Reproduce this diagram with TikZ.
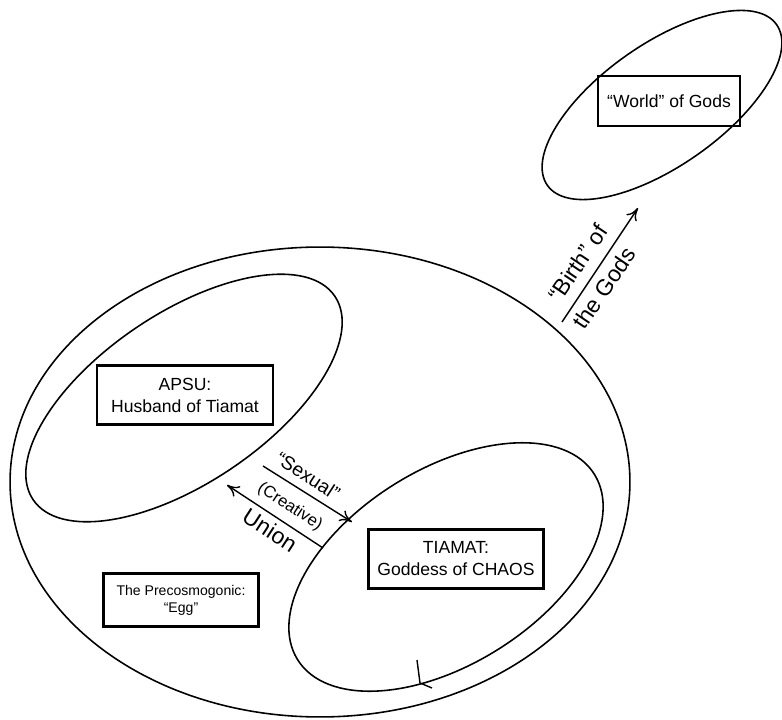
\documentclass[tikz,border=0pt]{standalone}
\usepackage{fontspec}
\setmainfont{Liberation Sans}
\usetikzlibrary{shapes.geometric,arrows.meta}
\tikzset{
 realm/.style={ellipse,draw,line width=0.9pt,inner sep=0pt,outer sep=0pt},
 namebox/.style={draw,line width=1.3pt,align=center,inner sep=0pt,font=\fontsize{10}{12.5}\selectfont},
 flow/.style={line width=0.8pt,-{To[length=7pt,width=7pt]}},
}
\begin{document}
\begin{tikzpicture}[x=0.02cm,y=-0.02cm]
 \useasboundingbox (0,0) rectangle (782,720);
 % the egg and its two halves
 \node[realm,minimum width=12.4cm,minimum height=9.4cm] (cosmos) at (320,482) {};
 \node[realm,minimum width=7.28cm,minimum height=3.4cm,rotate=34] (apsu) at (184,398) {};
 \node[realm,minimum width=7.0cm,minimum height=3.9cm,rotate=32] (tiamat) at (446,567) {};
 \node[realm,minimum width=5.6cm,minimum height=2.44cm,rotate=35] (world) at (662,105) {};
 % boxes
 \node[namebox,minimum width=3.52cm,minimum height=1.18cm] (apsubox) at (185,395) {APSU:\\Husband of Tiamat};
 \node[namebox,minimum width=3.5cm,minimum height=1.18cm] (tiamatbox) at (456,559) {TIAMAT:\\Goddess of CHAOS};
 \node[namebox,minimum width=3.1cm,minimum height=1.06cm,font=\fontsize{8}{9.7}\selectfont] (eggbox) at (181,600) {The Precosmogonic:\\“Egg”};
 \node[namebox,minimum width=2.84cm,minimum height=1.0cm] (worldbox) at (669,101) {“World” of Gods};
 % union arrows
 \coordinate (sexA) at (263,466);
 \coordinate (sexB) at (352,522);
 \coordinate (uniA) at (323,548);
 \coordinate (uniB) at (227,485);
 \draw[flow] (sexA) -- (sexB);
 \draw[flow] (uniA) -- (uniB);
 \node[rotate=-33,font=\fontsize{11}{13}\selectfont] (sexual) at (308,476) {“Sexual”};
 \node[rotate=-33,font=\fontsize{9.5}{11}\selectfont] (creative) at (290,507) {(Creative)};
 \node[rotate=-33,font=\fontsize{13}{15}\selectfont] (union) at (270,530) {Union};
 % birth of the gods
 \coordinate (birthA) at (562,322);
 \coordinate (birthB) at (638,208);
 \draw[flow] (birthA) -- (birthB);
 \node[rotate=56,font=\fontsize{13}{15}\selectfont] (birth) at (578,263) {“Birth” of};
 \node[rotate=56,font=\fontsize{13}{15}\selectfont] (gods) at (604,288) {the Gods};
 % tick on tiamat
 \coordinate (tick) at (420,683);
 \draw[line width=0.8pt] (417,660) -- (tick) -- (432,688);
\end{tikzpicture}
\end{document}
